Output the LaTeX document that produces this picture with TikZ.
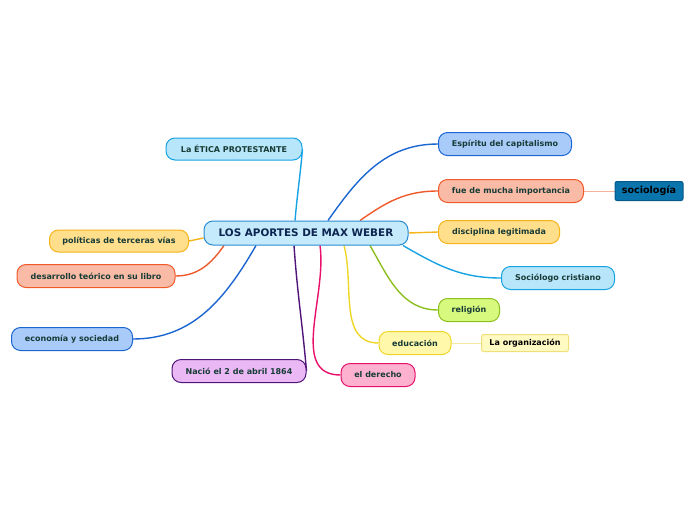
\documentclass[tikz,border=0pt]{standalone}
\usepackage{fontspec}
\setmainfont{DejaVu Sans}
\usepackage{xcolor}
\usepackage{tikz}
\usetikzlibrary{positioning,backgrounds}

\definecolor{txtgreen}{HTML}{173B36}
\definecolor{txtnavy}{HTML}{0D2550}
\definecolor{mainfill}{HTML}{C5EAFB}
\definecolor{mainline}{HTML}{2A8BD0}
\definecolor{cyanfill}{HTML}{B7E5F9}
\definecolor{cyanline}{HTML}{16A3E2}
\definecolor{amberfill}{HTML}{FFDE8C}
\definecolor{amberline}{HTML}{F5B41A}
\definecolor{salmonfill}{HTML}{F9BBA6}
\definecolor{salmonline}{HTML}{F05A2A}
\definecolor{bluefill}{HTML}{A8CBFA}
\definecolor{blueline}{HTML}{1B66D1}
\definecolor{purplefill}{HTML}{EAB9F5}
\definecolor{purpleline}{HTML}{4F1478}
\definecolor{pinkfill}{HTML}{FDB1CE}
\definecolor{pinkline}{HTML}{E8106A}
\definecolor{greenfill}{HTML}{D7F97E}
\definecolor{greenline}{HTML}{8CBF1E}
\definecolor{yellowfill}{HTML}{FFF8AA}
\definecolor{yellowline}{HTML}{EED626}
\definecolor{orgfill}{HTML}{FFF9C2}
\definecolor{orgline}{HTML}{F1E07A}
\definecolor{socfill}{HTML}{0A74AC}
\definecolor{socline}{HTML}{065A8A}
\definecolor{soclink}{HTML}{F8B29C}

\begin{document}
\begin{tikzpicture}[x=1pt,y=1pt,line width=1pt,
    topic/.style={draw,rounded corners=9pt,minimum height=23pt,inner xsep=0pt,
      font=\fontsize{8}{9}\selectfont\bfseries,text=txtgreen},
    link/.style={line width=1.4pt},
    thinlink/.style={line width=0.9pt}]
  \useasboundingbox (0,0) rectangle (696,-520);

  % central topic
  \node[topic,fill=mainfill,draw=mainline,minimum width=204pt,minimum height=24pt,
    font=\fontsize{10.4}{12}\selectfont\bfseries,text=txtnavy] (main) at (306,-233) {LOS APORTES DE MAX WEBER};

  % left side
  \node[topic,fill=cyanfill,draw=cyanline,minimum width=136pt,minimum height=22pt] (etica) at (234,-149) {La ÉTICA PROTESTANTE};
  \node[topic,fill=amberfill,draw=amberline,minimum width=139pt,minimum height=22pt] (politicas) at (119,-241) {políticas de terceras vías};
  \node[topic,fill=salmonfill,draw=salmonline,minimum width=158pt] (desarrollo) at (96,-276) {desarrollo teórico en su libro};
  \node[topic,fill=bluefill,draw=blueline,minimum width=121pt] (economia) at (72,-339) {economía y sociedad};
  \node[topic,fill=purplefill,draw=purpleline,minimum width=134pt] (nacio) at (239,-371) {Nació el 2 de abril 1864};
  \node[topic,fill=pinkfill,draw=pinkline,minimum width=74pt] (derecho) at (378,-375) {el derecho};

  % right side
  \node[topic,fill=bluefill,draw=blueline,minimum width=133pt] (espiritu) at (505,-144) {Espíritu del capitalismo};
  \node[topic,fill=salmonfill,draw=salmonline,minimum width=145pt] (fue) at (511,-191) {fue de mucha importancia};
  \node[topic,fill=amberfill,draw=amberline,minimum width=121pt] (disciplina) at (499,-232) {disciplina legitimada};
  \node[topic,fill=cyanfill,draw=cyanline,minimum width=113pt] (sociologo) at (558,-278) {Sociólogo cristiano};
  \node[topic,fill=greenfill,draw=greenline,minimum width=61pt] (religion) at (469,-310) {religión};
  \node[topic,fill=yellowfill,draw=yellowline,minimum width=72pt] (educacion) at (415,-343) {educación};

  % sub topics
  \node[draw=socline,fill=socfill,rounded corners=2pt,minimum width=68pt,minimum height=19pt,inner xsep=0pt,
    font=\fontsize{9.6}{11}\selectfont\bfseries,text=black] (sociologia) at (649,-191) {sociología};
  \node[draw=orgline,fill=orgfill,rounded corners=2pt,minimum width=87pt,minimum height=17pt,inner xsep=0pt,
    font=\fontsize{8}{9}\selectfont\bfseries,text=black] (organizacion) at (525,-343) {La organización};

  % connectors
  \begin{scope}[on background layer]
  \draw[link,cyanline] ([xshift=-11pt]main.north) to[out=85,in=-95] (etica.east);
  \draw[link,blueline] ([xshift=22pt]main.north) to[out=55,in=180] (espiritu.west);
  \draw[link,salmonline] ([xshift=54pt]main.north) to[out=35,in=180] (fue.west);
  \draw[link,amberline] (main.east) -- (disciplina.west);
  \draw[link,cyanline] ([xshift=97pt]main.south) to[out=-30,in=180] (sociologo.west);
  \draw[link,greenline] ([xshift=64pt]main.south) to[out=-60,in=180] (religion.west);
  \draw[link,yellowline] ([xshift=38pt]main.south) to[out=-75,in=180] (educacion.west);
  \draw[link,pinkline] ([xshift=14pt]main.south) to[out=-82,in=180] (derecho.west);
  \draw[link,purpleline] ([xshift=-12pt]main.south) to[out=-86,in=95] (nacio.east);
  \draw[link,blueline] ([xshift=-50pt]main.south) to[out=-120,in=0] (economia.east);
  \draw[link,salmonline] ([xshift=-82pt]main.south) to[out=-125,in=0] (desarrollo.east);
  \draw[link,amberline] ([yshift=-5pt]main.west) -- (politicas.east);
  \draw[thinlink,soclink] (fue.east) -- (sociologia.west);
  \draw[thinlink,orgline!70] (educacion.east) -- (organizacion.west);
  \end{scope}
\end{tikzpicture}
\end{document}
